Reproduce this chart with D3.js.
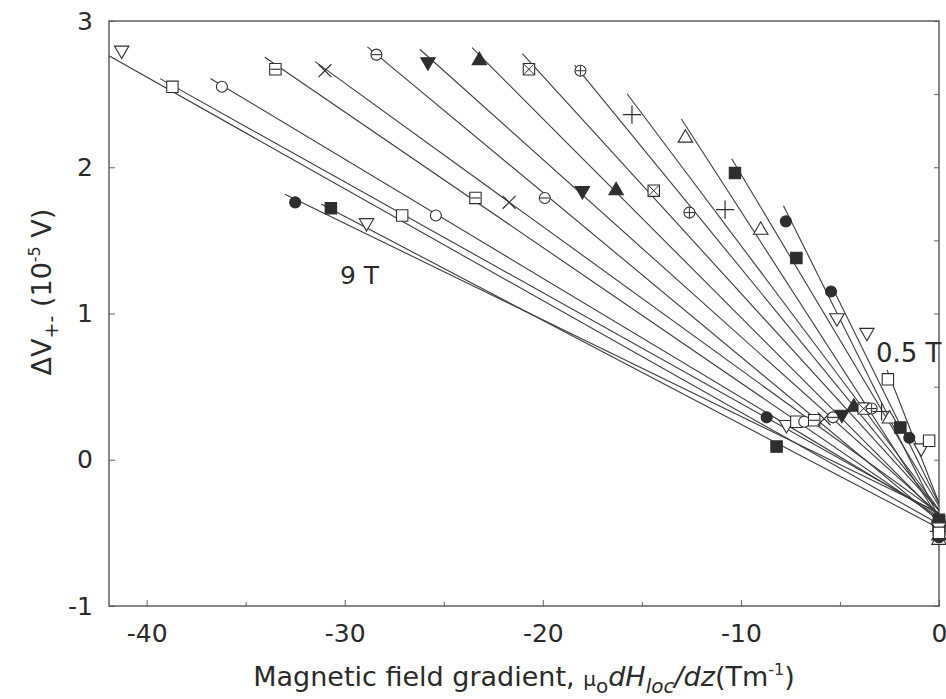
<!DOCTYPE html>
<html>
<head>
<meta charset="utf-8">
<script src="https://cdn.jsdelivr.net/npm/d3@7"></script>
<style>
  body { margin: 0; background: #fff; }
  text { font-family: "DejaVu Sans", "Liberation Sans", Arial, sans-serif; fill: #2a2a2a; }
</style>
</head>
<body>
<script>
// field of each measurement set (T), from 9 T down to 0.5 T
var fieldsT = [9, 8.5, 8, 7.5, 7, 6.5, 6, 5.5, 5, 4.5, 4, 3.5, 3, 2.5, 2, 1.5, 1, 0.5];
// symbol used for each field
var markerKinds = ["circleFill", "squareFill", "triDown", "square", "circle", "squareBar", "times", "circleBar",
  "triDownFill", "triUpFill", "squareX", "circlePlus", "plus", "triUp", "squareFill", "circleFill", "triDown", "square"];

// gradient (T/m) and dV (1e-5 V) of the points, null = not on the chart
var gradTop = [null, null, -41.26, -38.7, -36.2, -33.5, -31.0, -28.4, -25.8, -23.2, -20.7, -18.1, -15.5, -12.8, -10.3, -7.73, -5.15, -2.58];
var dvTop   = [null, null, 2.80, 2.55, 2.55, 2.67, 2.66, 2.77, 2.72, 2.73, 2.67, 2.66, 2.36, 2.20, 1.96, 1.63, 0.97, 0.55];
var gradMid = [-32.5, -30.7, -28.9, -27.1, -25.4, -23.4, -21.7, -19.9, -18.0, -16.3, -14.4, -12.6, -10.8, -9.0, -7.2, -5.45, -3.64, null];
var dvMid   = [1.76, 1.72, 1.62, 1.67, 1.67, 1.79, 1.76, 1.79, 1.84, 1.84, 1.84, 1.69, 1.71, 1.57, 1.38, 1.15, 0.87, null];
var gradLow = [-8.7, -8.2, -7.7, -7.2, -6.8, -6.3, -5.8, -5.35, -4.9, -4.3, -3.8, -3.4, -2.9, -2.5, -1.95, -1.5, -0.9, -0.5];
var dvLow   = [0.29, 0.09, 0.24, 0.26, 0.26, 0.27, 0.28, 0.29, 0.31, 0.36, 0.35, 0.35, 0.33, 0.28, 0.22, 0.15, 0.08, 0.13];
var dvZero  = [-0.42, -0.45, -0.47, -0.44, -0.46, -0.48, -0.43, -0.50, -0.45, -0.52, -0.47, -0.44, -0.49, -0.55, -0.41, -0.53, -0.46, -0.50];

var xTicks = [-40, -30, -20, -10, 0];
var yTicks = [-1, 0, 1, 2, 3];

var width = 946, height = 699;
var margin = {top: 21, right: 7, bottom: 93, left: 109};

var svg = d3.select("body").append("svg")
  .attr("width", width)
  .attr("height", height);

var x = d3.scaleLinear().domain([-41.9, 0]).range([margin.left, width - margin.right]);
var y = d3.scaleLinear().domain([-1, 3]).range([height - margin.bottom, margin.top]);

// series with their points
var series = fieldsT.map(function (f, i) {
  var pts = [[gradTop[i], dvTop[i]], [gradMid[i], dvMid[i]], [gradLow[i], dvLow[i]], [0, dvZero[i]]]
    .filter(function (p) { return p[0] != null; });
  return {field: f, kind: markerKinds[i], pts: pts};
});

// least squares line through the points of one field
function fitLine(pts) {
  var mx = d3.mean(pts, p => p[0]), my = d3.mean(pts, p => p[1]);
  var sxy = d3.sum(pts, p => (p[0] - mx) * (p[1] - my));
  var sxx = d3.sum(pts, p => (p[0] - mx) * (p[0] - mx));
  var b = sxy / sxx;
  return {b: b, a: my - b * mx};
}

// axes (ticks pointing inwards), plain hyphen for the minus
var fmt = d => String(d);
svg.append("g").attr("transform", `translate(0,${y(-1)})`)
  .call(d3.axisBottom(x).tickValues(xTicks).tickSize(-6).tickPadding(18).tickFormat(fmt));
svg.append("g").attr("transform", `translate(${x(-41.9)},0)`)
  .call(d3.axisLeft(y).tickValues(yTicks).tickSize(-6).tickPadding(16).tickFormat(fmt));
svg.append("g").attr("transform", `translate(${x(0)},0)`)
  .call(d3.axisRight(y).tickValues(d3.range(-1, 3.01, 0.5)).tickSize(-5).tickFormat(""));
svg.append("g").attr("transform", `translate(0,${y(-1)})`)
  .call(d3.axisBottom(x).tickValues([-35, -25, -15, -5]).tickSize(-4).tickFormat(""));
svg.selectAll(".domain").remove();
svg.selectAll(".tick line").attr("stroke", "#666");
svg.selectAll(".tick text").style("font-size", "25px").style("font-family", null).attr("fill", "#2a2a2a");

// frame
svg.append("rect")
  .attr("x", x(-41.9)).attr("y", y(3))
  .attr("width", x(0) - x(-41.9)).attr("height", y(-1) - y(3))
  .attr("fill", "none").attr("stroke", "#555").attr("stroke-width", 1.4);

// fitted lines
var plot = svg.append("g");
series.forEach(function (s) {
  var f = fitLine(s.pts);
  var x0 = Math.max(d3.min(s.pts, p => p[0]) * 1.016, -41.9);
  plot.append("line")
    .attr("x1", x(x0)).attr("y1", y(f.a + f.b * x0))
    .attr("x2", x(0)).attr("y2", y(f.a))
    .attr("stroke", "#3c3c3c").attr("stroke-width", 1.1);
});

// markers
var col = "#2e2e2e";
function drawMarker(g, kind) {
  var filled = kind.indexOf("Fill") > 0;
  var fill = filled ? col : "#fff";
  if (kind.indexOf("circle") == 0) {
    g.append("path").attr("d", d3.symbol(d3.symbolCircle, 95)())
      .attr("fill", fill).attr("stroke", col).attr("stroke-width", 1.1);
  } else if (kind.indexOf("square") == 0) {
    g.append("path").attr("d", d3.symbol(d3.symbolSquare, 130)())
      .attr("fill", fill).attr("stroke", col).attr("stroke-width", 1.1);
  } else if (kind.indexOf("triUp") == 0) {
    g.append("path").attr("d", d3.symbol(d3.symbolTriangle, 90)())
      .attr("fill", fill).attr("stroke", col).attr("stroke-width", 1.1);
  } else if (kind.indexOf("triDown") == 0) {
    g.append("path").attr("d", d3.symbol(d3.symbolTriangle, 90)())
      .attr("transform", "rotate(180)")
      .attr("fill", fill).attr("stroke", col).attr("stroke-width", 1.1);
  } else if (kind == "plus") {
    g.append("path").attr("d", d3.symbol(d3.symbolPlus, 110)())
      .attr("fill", "none").attr("stroke", col).attr("stroke-width", 1.2);
  } else if (kind == "times") {
    g.append("path").attr("d", d3.symbol(d3.symbolTimes, 110)())
      .attr("fill", "none").attr("stroke", col).attr("stroke-width", 1.2);
  }
  // inner decorations
  if (/Bar$/.test(kind)) {
    g.append("line").attr("x1", -5).attr("x2", 5).attr("stroke", col).attr("stroke-width", 1.1);
  }
  if (/X$/.test(kind)) {
    g.append("path").attr("d", "M-5,-5L5,5M-5,5L5,-5").attr("stroke", col).attr("stroke-width", 1);
  }
  if (/Plus$/.test(kind)) {
    g.append("path").attr("d", "M-5,0L5,0M0,-5L0,5").attr("stroke", col).attr("stroke-width", 1);
  }
}

series.forEach(function (s) {
  s.pts.forEach(function (p) {
    var g = plot.append("g").attr("transform", `translate(${x(p[0])},${y(p[1])})`);
    drawMarker(g, s.kind);
  });
});

// annotations
svg.append("text").attr("x", 340).attr("y", 284).style("font-size", "25px").text("9 T");
svg.append("text").attr("x", 876).attr("y", 362).style("font-size", "26px").text("0.5 T");

// x axis title
var xt = svg.append("text")
  .attr("x", 524).attr("y", 686)
  .attr("text-anchor", "middle")
  .style("font-size", "27px");
xt.append("tspan").text("Magnetic field gradient, ");
xt.append("tspan").style("font-size", "20px").text("\u03bc");
xt.append("tspan").attr("dy", 7).style("font-size", "20px").text("o");
xt.append("tspan").attr("dy", -7).style("font-style", "italic").text("dH");
xt.append("tspan").attr("dy", 7).style("font-size", "20px").style("font-style", "italic").text("loc");
xt.append("tspan").attr("dy", -7).style("font-style", "italic").text("/dz");
xt.append("tspan").text("(Tm");
xt.append("tspan").attr("dy", -11).style("font-size", "16px").text("-1");
xt.append("tspan").attr("dy", 11).text(")");

// y axis title
var yt = svg.append("text")
  .attr("transform", "translate(51,292) rotate(-90)")
  .attr("text-anchor", "middle")
  .style("font-size", "27px");
yt.append("tspan").text("\u0394V");
yt.append("tspan").attr("dy", 7).style("font-size", "19px").text("+-");
yt.append("tspan").attr("dy", -7).text(" (10");
yt.append("tspan").attr("dy", -11).style("font-size", "16px").text("-5");
yt.append("tspan").attr("dy", 11).text(" V)");
</script>
</body>
</html>
